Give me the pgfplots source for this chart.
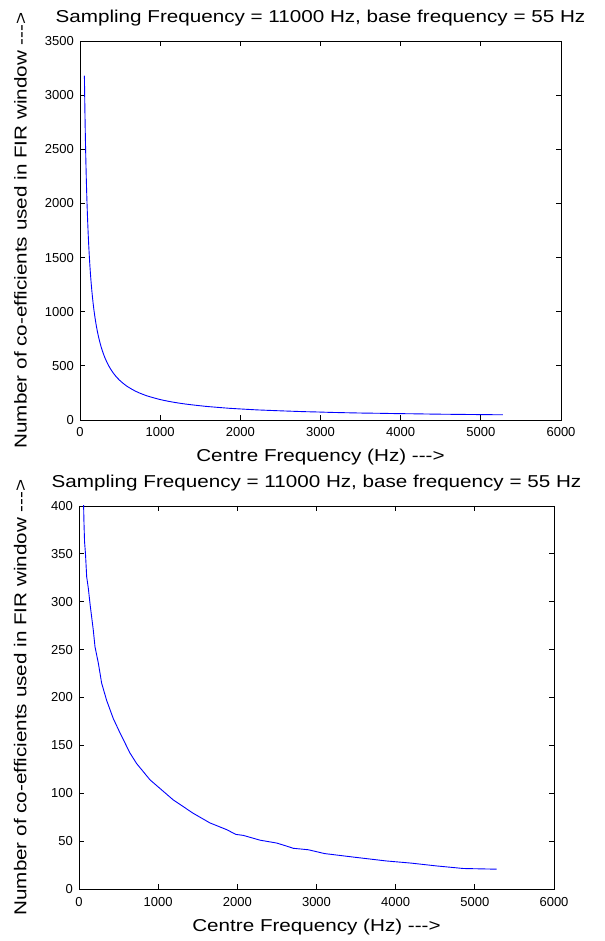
\documentclass[border=0pt]{standalone}
\usepackage{fontspec}
\setmainfont{Liberation Sans}
\newfontfamily\labfont[FakeStretch=1.2]{Liberation Sans}
\usepackage{pgfplots}
\pgfplotsset{compat=1.18}
\definecolor{mblue}{RGB}{0,0,255}

\pgfplotsset{matlab/.style={
  scale only axis,
  anchor=south west,
  xmin=0, xmax=6000, xtick={0,1000,...,6000},
  scaled ticks=false,
  /pgf/number format/1000 sep={},
  /pgf/number format/assume math mode=true,
  tick align=inside,
  major tick length=5bp,
  axis line style={line width=0.8bp},
  every tick/.style={black, line width=0.8bp},
  tick label style={font=\fontsize{13bp}{15bp}\selectfont},
  xticklabel style={anchor=base, yshift=-17bp},
  yticklabel style={anchor=east, inner sep=0pt, xshift=-6bp},
  label style={font=\labfont\fontsize{17.2bp}{20bp}\selectfont},
  title style={font=\labfont\fontsize{17.2bp}{20bp}\selectfont,
    at={(axis description cs:0.5,1)}, anchor=base, yshift=13bp},
  xlabel style={at={(axis description cs:0.5,0)}, anchor=base, yshift=-42bp},
  ylabel style={at={(axis description cs:-0.1235,0.5)}, anchor=center},
  title={Sampling Frequency = 11000 Hz, base frequency = 55 Hz},
  xlabel={Centre Frequency (Hz) -{}-{}->},
  ylabel={Number of co-efficients used in FIR window -{}-{}->},
}}

\begin{document}
\begin{tikzpicture}

% full range
\begin{axis}[matlab, at={(80bp,521bp)}, width=481bp, height=379bp,
  ymin=0, ymax=3500, ytick={0,500,...,3500}]
\addplot[mblue, line width=0.9bp] coordinates {
(55,3179) (58.27,3001) (61.74,2833) (65.41,2675) (69.30,2526) (73.42,2385)
(77.78,2252) (82.41,2126) (87.31,2008) (92.50,1896) (98.00,1791) (103.83,1691)
(110.0,1597) (116.54,1508) (123.47,1424) (130.81,1345) (138.59,1271) (146.83,1200)
(155.56,1134) (164.81,1071) (174.61,1012) (185.0,956) (196.0,903) (207.65,853)
(220.0,806) (233.08,762) (246.94,720) (261.63,680) (277.18,643) (293.66,608)
(311.13,574) (329.63,543) (349.23,513) (369.99,485) (392.0,459) (415.3,434)
(440.0,410) (466.16,388) (493.88,367) (523.25,348) (554.37,329) (587.33,311)
(622.25,295) (659.26,279) (698.46,264) (739.99,250) (783.99,237) (830.61,224)
(880.0,213) (932.33,202) (987.77,191) (1046.5,181) (1108.7,172) (1174.7,163)
(1244.5,155) (1318.5,147) (1396.9,140) (1480.0,133) (1568.0,126) (1661.2,120)
(1760.0,114) (1864.7,108) (1975.5,103) (2093.0,98) (2217.5,93) (2349.3,89)
(2489.0,85) (2637.0,81) (2793.8,77) (2960.0,74) (3136.0,70) (3322.4,67)
(3520.0,64) (3729.3,62) (3951.1,59) (4186.0,57) (4434.9,54) (4698.6,52)
(4978.0,50) (5274.0,48)
};
\end{axis}

% zoomed range
\begin{axis}[matlab, at={(79bp,52bp)}, width=475bp, height=383bp,
  ymin=0, ymax=400, ytick={0,50,...,400}]
\addplot[mblue, line width=0.9bp] coordinates {
(55,415) (62,385) (70,363) (82,350) (97,326) (118,314) (139,298) (160,284)
(181,270) (202,253) (244,236) (286,215) (349,197) (433,178) (518,163) (644,142)
(728,131) (897,114) (1065,102) (1191,93) (1444,79) (1654,69) (1865,62) (1982,57)
(2075,56) (2286,51) (2497,48) (2615,45) (2707,42.5) (2896,41) (3102,37) (3500,33)
(3881,29.3) (4200,27) (4515,24.1) (4856,21.4) (5274,20.7)
};
\end{axis}

\pgfresetboundingbox
\path[use as bounding box] (0,0) rectangle (605bp,941bp);
\end{tikzpicture}
\end{document}
